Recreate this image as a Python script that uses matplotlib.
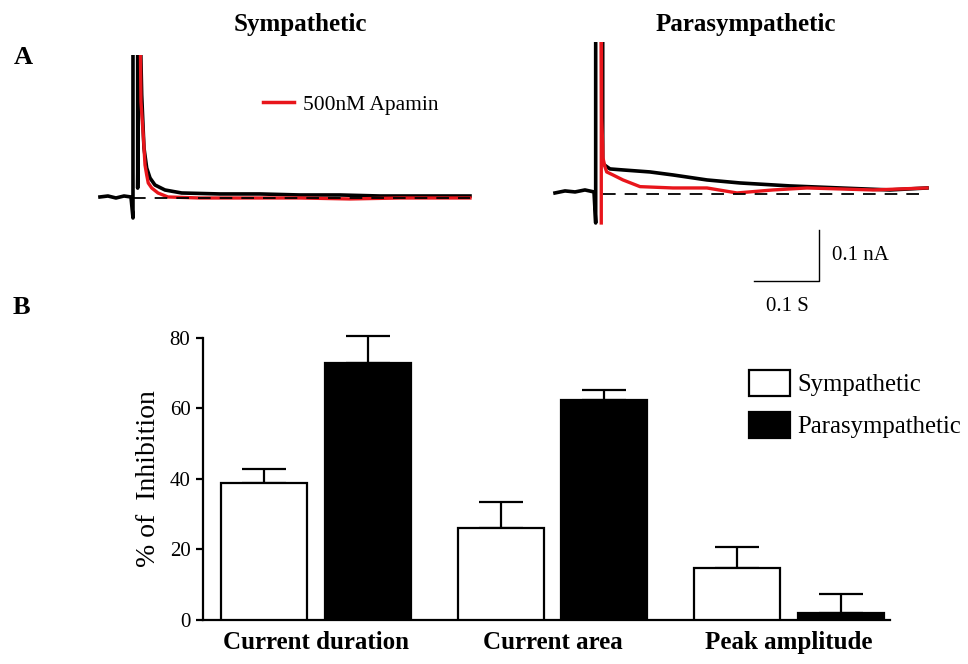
import numpy as np
import matplotlib
matplotlib.use('Agg')
import matplotlib.pyplot as plt
from matplotlib.patches import Patch
from matplotlib.lines import Line2D

plt.rcParams['font.family'] = ['Liberation Serif', 'DejaVu Serif']

# ---- panel A traces (time in s, current in nA) ----
# sympathetic, control (black)
sym_ctrl_t = [-0.0508, -0.0385, -0.0262, -0.0138, -0.0031, 0.0, 0.0, 0.0072, 0.0072,
              0.0100, 0.0134, 0.0169, 0.0211, 0.0262, 0.0338, 0.0492, 0.0749, 0.1338,
              0.1954, 0.2569, 0.3185, 0.3800, 0.4415, 0.5185]
sym_ctrl_i = [0.0006, 0.0025, -0.0014, 0.0025, 0.0006, -0.0406, 0.40, 0.40, 0.018,
              0.40, 0.2006, 0.0967, 0.0575, 0.0378, 0.0241, 0.0143, 0.0084, 0.0065,
              0.0065, 0.0045, 0.0045, 0.0025, 0.0025, 0.0025]
# sympathetic, 500nM apamin (red)
sym_apa_t = [0.0105, 0.0123, 0.0158, 0.0185, 0.0211, 0.0235, 0.0288, 0.0385, 0.0538,
             0.1031, 0.1800, 0.2569, 0.3338, 0.4108, 0.5185]
sym_apa_i = [0.40, 0.1869, 0.1222, 0.0633, 0.0437, 0.0280, 0.0182, 0.0084, 0.0006,
             -0.0014, -0.0014, -0.0014, -0.0033, -0.0014, -0.0014]

# parasympathetic, control (black)
para_ctrl_t = [-0.0626, -0.0472, -0.0317, -0.0165, -0.0026, 0.0, 0.0, 0.0108, 0.0108,
               0.0112, 0.0220, 0.0420, 0.0835, 0.1189, 0.1712, 0.2220, 0.2989, 0.3758,
               0.4528, 0.5097]
para_ctrl_i = [-0.0020, 0.0020, 0.0, 0.0039, 0.0, -0.0608, 0.40, 0.40, 0.0549,
               0.0549, 0.0451, 0.0431, 0.0392, 0.0333, 0.0235, 0.0176, 0.0118, 0.0078,
               0.0039, 0.0078]
# parasympathetic, 500nM apamin (red)
para_apa_t = [0.0086, 0.0086, 0.0092, 0.0108, 0.0112, 0.0143, 0.0169, 0.0266, 0.0420,
              0.0682, 0.1189, 0.1712, 0.2174, 0.2728, 0.3251, 0.4266, 0.5097]
para_apa_i = [-0.0608, 0.40, 0.1451, 0.0922, 0.0667, 0.0490, 0.0392, 0.0333, 0.0235,
              0.0104, 0.0078, 0.0078, -0.0020, 0.0039, 0.0078, 0.0039, 0.0078]

# ---- panel B bar data ----
groups = ['Current duration', 'Current area', 'Peak amplitude']
sym_vals = [39.0, 26.0, 14.8]
sym_err = [3.7, 7.5, 6.0]
para_vals = [73.0, 62.5, 2.0]
para_err = [7.6, 2.7, 5.5]

red = '#e8151b'

fig = plt.figure(figsize=(9.68, 6.64), dpi=100)

# sympathetic trace panel
ax1 = fig.add_axes([0.0981, 0.5181, 0.3926, 0.3991])
ax1.plot(sym_ctrl_t, sym_ctrl_i, color='black', lw=2.6)
ax1.plot(sym_apa_t, sym_apa_i, color=red, lw=2.4)
ax1.plot([0, 0.5185], [-0.002, -0.002], color='black', lw=1.3, dashes=(7, 5))
ax1.set_xlim(-0.0585, 0.5262)
ax1.set_ylim(-0.2406, 0.279)
ax1.axis('off')

# parasympathetic trace panel
ax2 = fig.add_axes([0.563, 0.5181, 0.4029, 0.4187])
ax2.plot(para_ctrl_t, para_ctrl_i, color='black', lw=2.6)
ax2.plot(para_apa_t, para_apa_i, color=red, lw=2.4)
ax2.plot([0.0112, 0.5097], [-0.0039, -0.0039], color='black', lw=1.3, dashes=(7, 5))
ax2.set_xlim(-0.078, 0.522)
ax2.set_ylim(-0.251, 0.294)
ax2.axis('off')

# scale bar: 0.1 s by 0.1 nA
sb_t, sb_i = 0.3435, -0.1745
ax2.plot([sb_t - 0.1, sb_t, sb_t], [sb_i, sb_i, sb_i + 0.1], color='black', lw=1.0)
ax2.text(sb_t + 0.02, sb_i + 0.049, '0.1 nA', fontsize=15, ha='left', va='center')
ax2.text(sb_t - 0.048, sb_i - 0.051, '0.1 S', fontsize=15, ha='center', va='center')

ax1.legend(handles=[Line2D([0], [0], color=red, lw=2.5)], labels=['500nM Apamin'],
           loc='center left', bbox_to_anchor=(263 / 968, 1 - 105 / 664),
           bbox_transform=fig.transFigure, frameon=False, fontsize=15.5,
           handlelength=1.45, handletextpad=0.4, borderpad=0, borderaxespad=0)

fig.text(300 / 968, 1 - 24 / 664, 'Sympathetic', fontsize=18, fontweight='bold',
         ha='center', va='center')
fig.text(746 / 968, 1 - 24 / 664, 'Parasympathetic', fontsize=18, fontweight='bold',
         ha='center', va='center')
fig.text(23 / 968, 1 - 57 / 664, 'A', fontsize=19, fontweight='bold', ha='center', va='center')
fig.text(21 / 968, 1 - 308 / 664, 'B', fontsize=19, fontweight='bold', ha='center', va='center')

# ---- panel B bars ----
axb = fig.add_axes([0.2097, 0.0663, 0.7097, 0.4247])
x = np.arange(len(groups))
off = 0.219
w = 0.363
axb.bar(x - off, sym_vals, w, color='white', edgecolor='black', lw=1.6, zorder=3)
axb.bar(x + off, para_vals, w, color='black', edgecolor='black', lw=1.6, zorder=3)
for xs, vals, errs in [(x - off, sym_vals, sym_err), (x + off, para_vals, para_err)]:
    eb = axb.errorbar(xs, vals, yerr=[np.zeros(3), errs], fmt='none', ecolor='black',
                      elinewidth=1.6, capsize=15.5, capthick=1.6, zorder=2)
    for art in eb.lines[1] + eb.lines[2]:
        art.set_clip_on(False)

axb.set_xlim(-0.478, 2.427)
axb.set_ylim(0, 80)
axb.set_yticks([0, 20, 40, 60, 80])
axb.set_xticks(x)
axb.set_xticklabels(groups, fontsize=18, fontweight='bold')
axb.tick_params(axis='x', length=0, pad=8)
axb.tick_params(axis='y', direction='out', length=5, width=1.6, labelsize=15, pad=4)
axb.spines['top'].set_visible(False)
axb.spines['right'].set_visible(False)
axb.spines['left'].set_linewidth(1.6)
axb.spines['bottom'].set_linewidth(1.6)
axb.set_ylabel('% of  Inhibition', fontsize=20, labelpad=6)

axb.legend(handles=[Patch(facecolor='white', edgecolor='black', lw=1.6),
                    Patch(facecolor='black', edgecolor='black', lw=1.6)],
           labels=['Sympathetic', 'Parasympathetic'], loc='upper left',
           bbox_to_anchor=(749 / 968, 1 - 370 / 664), bbox_transform=fig.transFigure,
           frameon=False, fontsize=17.8, handlelength=1.65, handleheight=1.25,
           handletextpad=0.3, labelspacing=0.62, borderpad=0, borderaxespad=0)

fig.savefig('out.png', dpi=100)
